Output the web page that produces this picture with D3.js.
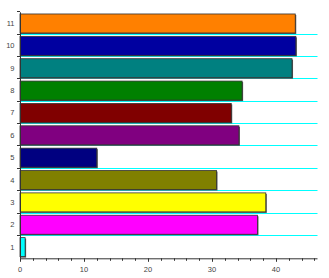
<!DOCTYPE html>
<html><head><meta charset="utf-8">
<script src="https://cdn.jsdelivr.net/npm/d3@7"></script>
<style>body{margin:0;background:#fff}svg{display:block}text{font-family:Arial,"Liberation Sans",sans-serif}</style>
</head><body>
<script>
const categories = ["1","2","3","4","5","6","7","8","9","10","11"];
const values = [0.8, 37.1, 38.4, 30.7, 12.0, 34.2, 33.0, 34.7, 42.5, 43.1, 43.0];
const colors = ["#00ffff","#ff00ff","#ffff00","#808000","#000080","#800080","#800000","#008000","#008080","#0000a0","#ff8000"];
const xTicks = [0,10,20,30,40];
const xMinorTicks = d3.range(0, 47, 2);

const W = 329, H = 278;
const pLeft = 20, pRight = 317, pTop = 12.3, pBottom = 258.3;
const svg = d3.select("body").append("svg").attr("width", W).attr("height", H);

const x = d3.scaleLinear().domain([0, 46.4]).range([pLeft, pRight]);
const y = d3.scaleBand().domain(categories.slice().reverse()).range([pTop, pBottom]).paddingInner(0.15).paddingOuter(0.075);
const step = y.step();

// gridlines at band boundaries (between bands)
const bounds = d3.range(1, categories.length).map(i => pTop + i * step);
svg.append("g").selectAll("line").data(bounds).join("line")
  .attr("x1", pLeft).attr("x2", pRight + 0.5)
  .attr("y1", d => Math.round(d) - 0.5).attr("y2", d => Math.round(d) - 0.5)
  .attr("stroke", "#00ffff").attr("stroke-width", 1.2);

// bars
const g = svg.append("g");
g.selectAll("rect.sh").data(categories).join("rect").attr("class","sh")
  .attr("x", x(0) + 1).attr("y", d => y(d) + 1)
  .attr("width", (d,i) => x(values[i]) - x(0)).attr("height", y.bandwidth())
  .attr("fill", "#555");
g.selectAll("rect.b").data(categories).join("rect").attr("class","b")
  .attr("x", x(0)).attr("y", d => y(d))
  .attr("width", (d,i) => x(values[i]) - x(0)).attr("height", y.bandwidth())
  .attr("fill", (d,i) => colors[i]).attr("stroke", "#333").attr("stroke-width", 0.8);

// y axis
const ya = svg.append("g");
ya.append("line").attr("x1", pLeft + 0.5).attr("x2", pLeft + 0.5).attr("y1", pTop).attr("y2", pBottom).attr("stroke", "#333");
ya.selectAll("line.t").data([pTop, ...bounds]).join("line").attr("class","t")
  .attr("x1", pLeft - 3).attr("x2", pLeft).attr("y1", d => Math.round(d) - 0.5).attr("y2", d => Math.round(d) - 0.5).attr("stroke", "#333");
ya.selectAll("text").data(categories).join("text")
  .attr("x", 14.5).attr("y", d => y(d) + y.bandwidth() / 2 + 2.5)
  .attr("text-anchor", "end").attr("font-size", 7.5).attr("fill", "#444").text(d => d);

// x axis
const xa = svg.append("g");
xa.append("line").attr("x1", pLeft).attr("x2", pRight + 0.5).attr("y1", pBottom + 0.5).attr("y2", pBottom + 0.5).attr("stroke", "#333");
xa.selectAll("line.t").data(xMinorTicks).join("line").attr("class","t")
  .attr("x1", d => Math.round(x(d)) + 0.5).attr("x2", d => Math.round(x(d)) + 0.5)
  .attr("y1", pBottom).attr("y2", d => pBottom + (d % 10 === 0 ? 3.5 : 2.5)).attr("stroke", "#333");
xa.selectAll("text").data(xTicks).join("text")
  .attr("x", d => x(d)).attr("y", 272)
  .attr("text-anchor", "middle").attr("font-size", 7.5).attr("fill", "#444").text(d => d);
</script>
</body></html>
